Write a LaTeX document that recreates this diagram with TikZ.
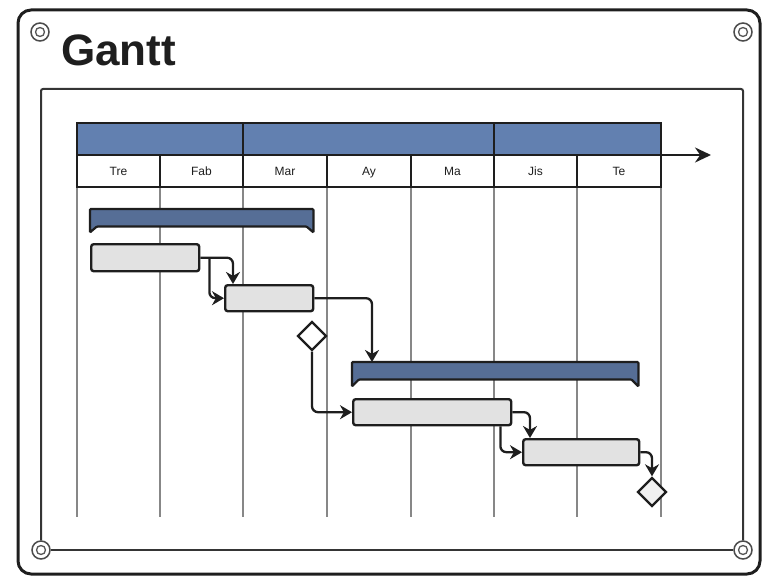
\documentclass[tikz,border=0pt]{standalone}
\usepackage{fontspec}
\setmainfont{Liberation Sans}
\usetikzlibrary{shapes.geometric,arrows.meta,calc}
\definecolor{hdrblue}{RGB}{98,128,176}
\definecolor{sumblue}{RGB}{86,110,150}
\definecolor{taskgray}{RGB}{226,226,226}
\definecolor{gridgray}{RGB}{135,135,135}
\definecolor{ink}{RGB}{30,30,30}
\begin{document}
\begin{tikzpicture}[x=1pt,y=-1pt,
  frame/.style={draw=ink,line width=3pt,rounded corners=13pt},
  panel/.style={draw=ink!90,line width=2pt,rounded corners=2pt},
  bolt/.style={circle,draw=ink!80,line width=1.5pt,minimum size=18pt,inner sep=0pt,fill=white,
    path picture={\draw[line width=1.3pt,ink!75] (path picture bounding box.center) circle (4.5pt);}},
  hdr/.style={draw=ink,line width=2pt},
  month/.style={font=\fontsize{12}{12}\selectfont,text=ink,inner sep=0pt,anchor=base},
  grid/.style={draw=gridgray,line width=1.2pt},
  task/.style={draw=ink,line width=2.4pt,fill=taskgray,rounded corners=2.5pt,inner sep=0pt,anchor=north west},
  summ/.style={draw=none,inner sep=0pt,anchor=north west},
  summshape/.style={draw=ink,line width=2.2pt,fill=sumblue,rounded corners=1pt},
  mile/.style={diamond,draw=ink,line width=2.4pt,fill=white,minimum size=29pt,inner sep=0pt},
  conn/.style={draw=ink,line width=2.3pt,rounded corners=6pt,-{Stealth[length=12pt,width=14pt]}}
]
\useasboundingbox (0,0) rectangle (764,578);
% outer frame
\draw[frame] (18,10) rectangle (760,574);
\node[bolt] (b1) at (40,32) {};
\node[bolt] (b2) at (743,32) {};
\node[bolt] (b3) at (41,550) {};
\node[bolt] (b4) at (743,550) {};
% inner panel
\draw[panel] (b3.north) -- (41,89) -- (743,89) -- (b4.north);
\draw[panel,rounded corners=0pt] (b3.east) -- (b4.west);
% title
\node[anchor=base west,inner sep=0pt,font=\fontsize{44}{44}\selectfont\bfseries,text=ink] (title) at (61,66) {Gantt};
% grid lines
\foreach \x in {77,160,243,327,411,494,577,661}{
  \draw[grid] (\x,187) -- (\x,517);
}
% header
\draw[hdr,fill=hdrblue] (77,123) rectangle (661,155);
\draw[hdr] (243,123) -- (243,155);
\draw[hdr] (494,123) -- (494,155);
\draw[hdr,fill=white] (77,155) rectangle (661,187);
\foreach \x in {160,243,327,411,494,577}{
  \draw[hdr] (\x,155) -- (\x,187);
}
\coordinate (axisstart) at (661,155);
\coordinate (axisend) at (711,155);
\draw[hdr,line width=2.4pt,-{Stealth[length=16pt,width=15pt]}] (axisstart) -- (axisend);
\node[month] (mo1) at (118.5,175.5) {Tre};
\node[month] (mo2) at (201.5,175.5) {Fab};
\node[month] (mo3) at (285,175.5) {Mar};
\node[month] (mo4) at (369,175.5) {Ay};
\node[month] (mo5) at (452.5,175.5) {Ma};
\node[month] (mo6) at (535.5,175.5) {Jis};
\node[month] (mo7) at (619,175.5) {Te};
% summary bars
\node[summ,minimum width=223pt,minimum height=17pt] (s1) at (90,209) {};
\draw[summshape] (s1.north west) -- (s1.north east) -- ($(s1.south east)+(0,6)$) -- ($(s1.south east)+(-7,0)$)
  -- ($(s1.south west)+(7,0)$) -- ($(s1.south west)+(0,6)$) -- cycle;
\node[summ,minimum width=286pt,minimum height=17pt] (s2) at (352,362) {};
\draw[summshape] (s2.north west) -- (s2.north east) -- ($(s2.south east)+(0,7)$) -- ($(s2.south east)+(-7,0)$)
  -- ($(s2.south west)+(7,0)$) -- ($(s2.south west)+(0,7)$) -- cycle;
% tasks
\node[task,minimum width=108pt,minimum height=27pt] (t1) at (90,243) {};
\node[task,minimum width=88pt,minimum height=26pt] (t2) at (224,284) {};
\node[task,minimum width=158pt,minimum height=26pt] (t3) at (352,398) {};
\node[task,minimum width=116pt,minimum height=26pt] (t4) at (522,438) {};
% milestones
\node[mile] (ms1) at (312,336) {};
\node[mile,fill=gray!12] (ms2) at (652,492) {};
% connectors
\draw[conn] (t1.east) -| ([xshift=9pt]t2.north west);
\coordinate (br1) at ([xshift=9pt]t1.east);
\draw[conn] (br1) |- (t2.west);
\draw[conn] (t2.east) -| ([xshift=20pt]s2.north west);
\draw[conn] (ms1.south) |- (t3.west);
\draw[conn] (t3.east) -| ([xshift=8pt]t4.north west);
\draw[conn] ([xshift=-12pt]t3.south east) |- (t4.west);
\draw[conn] (t4.east) -| (ms2.north);
\end{tikzpicture}
\end{document}
